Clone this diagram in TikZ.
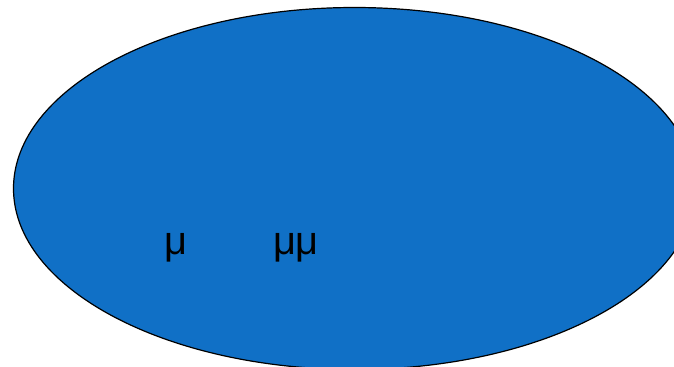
\documentclass[tikz,border=0pt]{standalone}
\usepackage{fontspec}
\setmainfont{Liberation Sans}
\usetikzlibrary{shapes.geometric}
\definecolor{ellblue}{HTML}{1070C6}
\begin{document}
\begin{tikzpicture}[x=1bp,y=-1bp,
  lbl/.style={font=\fontsize{40}{46}\selectfont, text=black, inner sep=0pt}]
\useasboundingbox (0,0) rectangle (674,366);
\begin{scope}
\clip (0,0) rectangle (674,366);
\node[ellipse, draw=black, line width=1.2bp, fill=ellblue, minimum width=682bp, minimum height=362bp, inner sep=0pt] (ell) at (354.5,188.5) {};
\end{scope}
\node[lbl, anchor=base] (m1) at (176,254) {μ};
\node[lbl, anchor=base] (m2) at (296,254) {μμ};
\end{tikzpicture}
\end{document}
